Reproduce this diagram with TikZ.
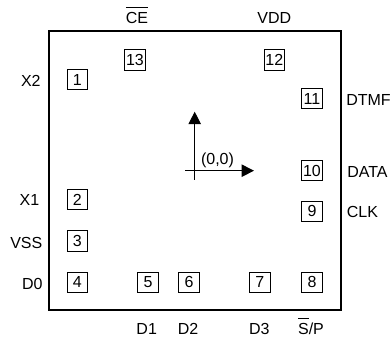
\documentclass[tikz,border=0pt]{standalone}
\usepackage{fontspec}
\setmainfont{Liberation Sans}
\usetikzlibrary{arrows.meta}
\newcommand\ovl[1]{\leavevmode\vbox{\hrule height 0.8pt\kern 5.3pt\hbox{#1}}}
\tikzset{
  x=1pt,y=-1pt,
  pad/.style={draw,line width=0.9pt,minimum width=20.5pt,minimum height=20.5pt,inner sep=0pt,font=\fontsize{16}{16}\selectfont},
  lab/.style={inner sep=0pt,anchor=base,font=\fontsize{16}{16}\selectfont},
  die/.style={line width=1.6pt},
  axis/.style={line width=1pt,-{Triangle[length=12.5pt,width=12.5pt]}}
}
\begin{document}
\begin{tikzpicture}
\useasboundingbox (0,0) rectangle (392,339);
\coordinate (tl) at (48.7,31.3);
\coordinate (br) at (340.7,310.3);
\draw[die] (tl) rectangle (br);
\node[pad] (p1) at (77.3,79.5) {1};
\node[pad] (p2) at (77.3,199.5) {2};
\node[pad] (p3) at (77.3,241) {3};
\node[pad] (p4) at (77.3,282.3) {4};
\node[pad] (p5) at (148,282.3) {5};
\node[pad] (p6) at (189,282.3) {6};
\node[pad] (p7) at (259.8,282.3) {7};
\node[pad] (p8) at (312,282.3) {8};
\node[pad] (p9) at (312,211.3) {9};
\node[pad] (p10) at (312,170.5) {10};
\node[pad] (p11) at (312,98.5) {11};
\node[pad] (p12) at (274.3,60) {12};
\node[pad] (p13) at (135,60) {13};
\node[lab] (l1) at (30.8,87) {X2};
\node[lab] (l2) at (29.5,206) {X1};
\node[lab] (l3) at (26.3,248.5) {VSS};
\node[lab] (l4) at (32.3,289.5) {D0};
\node[lab] (l5) at (146.7,335) {D1};
\node[lab] (l6) at (188,335) {D2};
\node[lab] (l7) at (259.3,335) {D3};
\node[lab] (l8) at (311,335) {\ovl{S}/P};
\node[lab] (l9) at (362.5,218) {CLK};
\node[lab] (l10) at (367.5,178) {DATA};
\node[lab] (l11) at (368.5,106) {DTMF};
\node[lab] (l12) at (274.3,24) {VDD};
\node[lab] (l13) at (137,24) {\ovl{CE}};
\coordinate (vs) at (194.7,180);
\coordinate (ve) at (194.7,111.7);
\coordinate (hs) at (185.3,170.7);
\coordinate (he) at (254,170.7);
\draw[axis] (vs) -- (ve);
\draw[axis] (hs) -- (he);
\node[lab] (o) at (217.5,165) {(0,0)};
\end{tikzpicture}
\end{document}
